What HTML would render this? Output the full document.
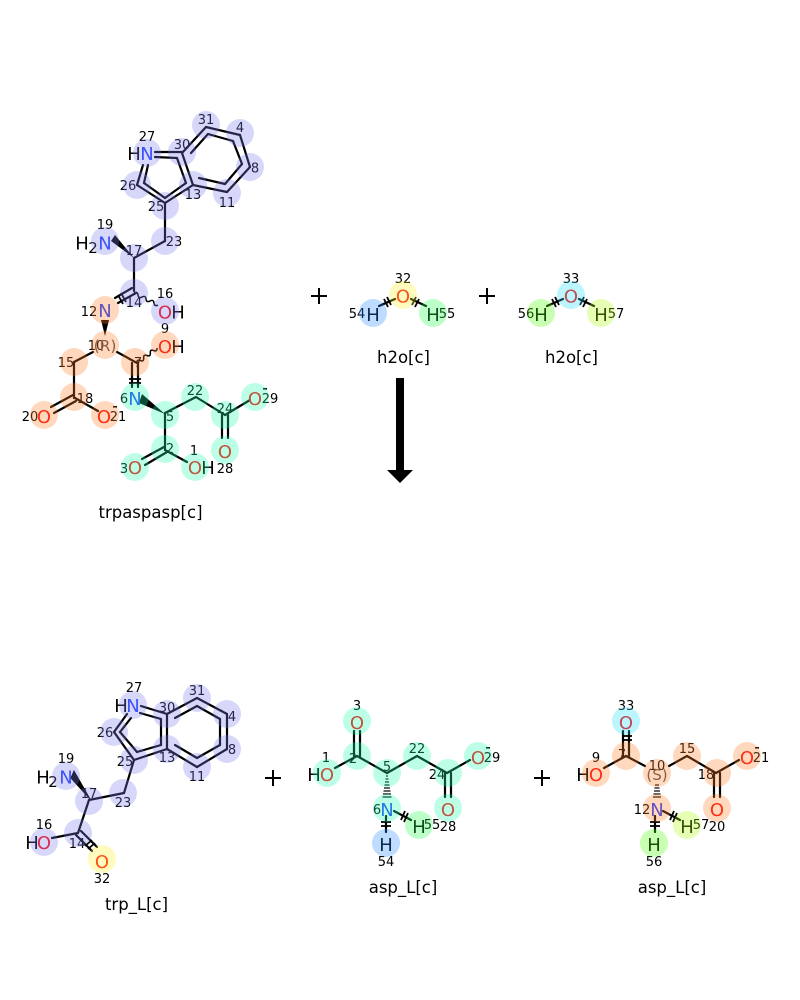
<!DOCTYPE html>
<html><head><meta charset="utf-8"><style>
html,body{margin:0;padding:0;background:#fff}
svg{display:block}
text{font-family:"DejaVu Sans",sans-serif}
.b line{stroke:#000;stroke-width:2.2;fill:none;stroke-linecap:round}
.x line{stroke:#000;stroke-width:1.8}
.w path{stroke:#000;stroke-width:1.5;fill:none}
.a text{font-size:18px;text-anchor:middle}
.n text{font-size:13px;text-anchor:middle;fill:#000}
.N{fill:#2040ff}.O{fill:#ff0d0d}.H{fill:#000}
.c circle{r:14px;fill-opacity:.3}
.l{font-size:16.5px;text-anchor:middle;fill:#000}
.L{fill:#7a7aee}.P{fill:#ff7d26}.M{fill:#26ffac}.Y{fill:#ffee26}.B{fill:#268aff}.G{fill:#26ff48}.E{fill:#48ff00}.C{fill:#26deff}.J{fill:#acff05}
</style></head><body>
<svg width="800" height="1000" viewBox="0 0 800 1000" xmlns="http://www.w3.org/2000/svg">
<rect width="800" height="1000" fill="#fff"/>

<!-- trpaspasp bonds -->
<g class="b">
<line x1="155" y1="152" x2="182" y2="152"/><line x1="155" y1="157" x2="177" y2="158"/>
<line x1="182" y1="153" x2="193" y2="185"/><line x1="177" y1="158" x2="186" y2="183"/>
<line x1="193" y1="185" x2="165" y2="203"/><line x1="165" y1="203" x2="137" y2="185"/><line x1="186" y1="183" x2="165" y2="198"/><line x1="165" y1="198" x2="144" y2="183"/>
<line x1="137" y1="185" x2="143" y2="165"/><line x1="144" y1="183" x2="148" y2="165"/>
<line x1="182" y1="153" x2="206" y2="127"/><line x1="206" y1="127" x2="240" y2="135"/><line x1="240" y1="135" x2="250" y2="167"/><line x1="250" y1="167" x2="227" y2="192"/><line x1="227" y1="192" x2="193" y2="185"/>
<line x1="191" y1="153" x2="208" y2="134"/><line x1="208" y1="134" x2="233" y2="141"/><line x1="233" y1="141" x2="242" y2="164"/><line x1="242" y1="164" x2="225" y2="184"/><line x1="225" y1="184" x2="199" y2="178"/>
<line x1="165" y1="203" x2="165" y2="241"/><line x1="165" y1="241" x2="134" y2="258"/><line x1="134" y1="258" x2="134" y2="291"/>
<line x1="136" y1="293" x2="118" y2="303"/><line x1="132" y1="288" x2="115" y2="298"/>
<line x1="93" y1="352" x2="74" y2="362"/><line x1="117" y1="352" x2="137" y2="363"/>
<line x1="132" y1="363" x2="132" y2="387"/><line x1="138" y1="363" x2="138" y2="387"/>
<line x1="74" y1="362" x2="74" y2="398"/><line x1="76" y1="401" x2="54" y2="413"/><line x1="73" y1="395" x2="51" y2="407"/><line x1="75" y1="398" x2="98" y2="411"/>
<line x1="165" y1="413" x2="196" y2="397"/><line x1="196" y1="397" x2="225" y2="415"/><line x1="225" y1="415" x2="250" y2="400"/>
<line x1="222" y1="415" x2="222" y2="438"/><line x1="228" y1="415" x2="228" y2="438"/>
<line x1="165" y1="413" x2="165" y2="449"/><line x1="164" y1="447" x2="142" y2="459"/><line x1="167" y1="452" x2="145" y2="465"/><line x1="165" y1="450" x2="187" y2="462"/>
</g>
<polygon points="111,241 115,235 134,258" fill="#000"/>
<polygon points="101,320 109,320 105,336" fill="#000"/>
<polygon points="142,394 139,403 165,414" fill="#000"/>
<g class="x">
<line x1="118" y1="295" x2="123" y2="304"/><line x1="121" y1="293" x2="126" y2="302"/>
<line x1="129" y1="379" x2="141" y2="379"/><line x1="129" y1="383" x2="141" y2="383"/>
</g>
<g class="w">
<path d="M134 293q3.5-2 4 2q.5 4 4 2q3.5-2 4 2q.5 4 4 2q3.500-2 4 2q.5 4 4 2"/>
<path d="M137 363q-.33-4 3.330-2.500q3.670 1.550 3.330-2.500q-.33-4 3.330-2.500q3.670 1.550 3.330-2.500q-.33-4 3.330-2.500q3.670 1.550 3.330-2.500"/>
</g>

<!-- trpaspasp text -->
<g class="a">
<text x="147" y="160" class="N">N</text><text x="134" y="160" class="H">H</text>
<text x="105" y="249.500" class="N">N</text><text x="82" y="249.500" class="H">H</text><text x="93" y="253" class="H" style="font-size:15px">2</text>
<text x="105" y="317" class="N">N</text>
<text x="165" y="318.500" class="O">O</text><text x="178" y="318.500" class="H">H</text>
<text x="165" y="353" class="O">O</text><text x="178" y="353" class="H">H</text>
<text x="44" y="423" class="O">O</text><text x="104" y="423" class="O">O</text>
<text x="135" y="405" class="N">N</text>
<text x="255" y="405" class="O">O</text>
<text x="225" y="458" class="O">O</text>
<text x="135" y="474" class="O">O</text><text x="195" y="474" class="O">O</text><text x="208" y="474" class="H">H</text>
</g>
<rect x="263" y="388" width="4" height="1.600" fill="#000"/><rect x="113" y="406" width="4" height="1.600" fill="#000"/>
<g class="n">
<text x="147" y="141">27</text><text x="182" y="149">30</text><text x="206" y="124">31</text><text x="240" y="132">4</text><text x="255" y="172.500">8</text><text x="227" y="207">11</text><text x="193" y="199">13</text><text x="156" y="211">25</text><text x="128" y="190">26</text><text x="174" y="246">23</text><text x="105" y="229">19</text><text x="134" y="255">17</text><text x="134" y="307">14</text><text x="165" y="298">16</text><text x="89" y="316">12</text><text x="165" y="333">9</text><text x="96" y="350">10</text><text x="105" y="351" style="font-size:15.500px;fill:#555">(R)</text><text x="138" y="367">7</text><text x="66" y="367">15</text><text x="85" y="403">18</text><text x="30" y="421">20</text><text x="118" y="421">21</text><text x="124" y="403">6</text><text x="170" y="421">5</text><text x="195" y="395">22</text><text x="225" y="413">24</text><text x="270" y="403">29</text><text x="225" y="473">28</text><text x="170" y="453">2</text><text x="124" y="473">3</text><text x="194" y="455">1</text>
</g>
<g class="c">
<circle class="L" cx="147" cy="153"/><circle class="L" cx="182" cy="152"/><circle class="L" cx="206" cy="125"/><circle class="L" cx="240" cy="133"/><circle class="L" cx="250" cy="167"/><circle class="L" cx="227" cy="193"/><circle class="L" cx="193" cy="185"/><circle class="L" cx="165" cy="206"/><circle class="L" cx="137" cy="185"/><circle class="L" cx="165" cy="241"/><circle class="L" cx="105" cy="241"/><circle class="L" cx="134" cy="258"/><circle class="L" cx="134" cy="293"/><circle class="L" cx="165" cy="311"/>
<circle class="P" cx="105" cy="310"/><circle class="P" cx="105" cy="345"/><circle class="P" cx="165" cy="345"/><circle class="P" cx="135" cy="362"/><circle class="P" cx="74" cy="362"/><circle class="P" cx="74" cy="397"/><circle class="P" cx="44" cy="415"/><circle class="P" cx="105" cy="415"/>
<circle class="M" cx="135" cy="397"/><circle class="M" cx="165" cy="415"/><circle class="M" cx="195" cy="397"/><circle class="M" cx="225" cy="415"/><circle class="M" cx="255" cy="397"/><circle class="M" cx="225" cy="450"/><circle class="M" cx="165" cy="449"/><circle class="M" cx="135" cy="467"/><circle class="M" cx="195" cy="467"/>
</g>

<!-- water -->
<g class="b">
<line x1="379" y1="306" x2="395" y2="299"/><line x1="411" y1="299" x2="426" y2="306"/>
<line x1="547" y1="306" x2="563" y2="299"/><line x1="579" y1="299" x2="594" y2="306"/>
</g>
<g class="x">
<line x1="387" y1="297" x2="391" y2="305"/><line x1="384" y1="299" x2="388" y2="307"/><line x1="412" y1="305" x2="416" y2="297"/><line x1="415" y1="307" x2="419" y2="299"/>
<line x1="555" y1="297" x2="559" y2="305"/><line x1="552" y1="299" x2="556" y2="307"/><line x1="580" y1="305" x2="584" y2="297"/><line x1="583" y1="307" x2="587" y2="299"/>
</g>
<g class="a">
<text x="403" y="302.500" class="O">O</text><text x="373" y="321" class="H">H</text><text x="433" y="321" class="H">H</text>
<text x="571" y="302.500" class="O">O</text><text x="541" y="321" class="H">H</text><text x="601" y="321" class="H">H</text>
</g>
<g class="n">
<text x="403" y="283">32</text><text x="357" y="318">54</text><text x="447" y="318">55</text><text x="571" y="283">33</text><text x="526" y="318">56</text><text x="616" y="318">57</text>
</g>
<g class="c">
<circle class="Y" cx="403" cy="295"/><circle class="B" cx="373" cy="313"/><circle class="G" cx="433" cy="313"/>
<circle class="C" cx="571" cy="295"/><circle class="E" cx="541" cy="313"/><circle class="J" cx="601" cy="313"/>
</g>

<!-- plus -->
<g fill="#000">
<rect x="311" y="295" width="16" height="2"/><rect x="318" y="288" width="2" height="16"/>
<rect x="479" y="295" width="16" height="2"/><rect x="486" y="288" width="2" height="16"/>
<rect x="265" y="777" width="16" height="2"/><rect x="272" y="770" width="2" height="16"/>
<rect x="534" y="777" width="16" height="2"/><rect x="541" y="770" width="2" height="16"/>
</g>

<!-- labels -->
<text class="l" x="150.500" y="518">trpaspasp[c]</text>
<text class="l" x="403.500" y="363">h2o[c]</text>
<text class="l" x="571.500" y="363">h2o[c]</text>
<text class="l" x="136.500" y="910">trp_L[c]</text>
<text class="l" x="403" y="893">asp_L[c]</text>
<text class="l" x="672" y="893">asp_L[c]</text>

<!-- arrow -->
<polygon points="396,378 404,378 404,470 413,470 400,483 387,470 396,470" fill="#000"/>

<!-- trp_L -->
<g class="b">
<line x1="141" y1="706" x2="167" y2="714"/><line x1="167" y1="714" x2="167" y2="749"/><line x1="167" y1="749" x2="134" y2="760"/><line x1="134" y1="760" x2="114" y2="732"/><line x1="114" y1="732" x2="127" y2="714"/>
<line x1="140" y1="713" x2="161" y2="719"/><line x1="161" y1="719" x2="161" y2="745"/><line x1="161" y1="745" x2="137" y2="752"/><line x1="137" y1="752" x2="120" y2="732"/><line x1="120" y1="732" x2="131" y2="718"/>
<line x1="167" y1="714" x2="197" y2="698"/><line x1="197" y1="698" x2="227" y2="714"/><line x1="227" y1="714" x2="227" y2="749"/><line x1="227" y1="749" x2="197" y2="767"/><line x1="197" y1="767" x2="167" y2="749"/>
<line x1="175" y1="718" x2="197" y2="706"/><line x1="197" y1="706" x2="220" y2="719"/><line x1="220" y1="719" x2="220" y2="745"/><line x1="220" y1="745" x2="197" y2="758"/><line x1="197" y1="758" x2="175" y2="745"/>
<line x1="134" y1="760" x2="124" y2="793"/><line x1="124" y1="793" x2="89" y2="800"/><line x1="89" y1="800" x2="78" y2="833"/><line x1="78" y1="833" x2="52" y2="838"/>
<line x1="76" y1="835" x2="92" y2="851"/><line x1="81" y1="831" x2="97" y2="847"/>
</g>
<polygon points="71,778 74,771 90,799" fill="#000" stroke="#000" stroke-width="1"/>
<g class="x"><line x1="85" y1="846" x2="92" y2="840"/><line x1="88" y1="849" x2="95" y2="843"/></g>
<g class="a">
<text x="133" y="712" class="N">N</text><text x="121" y="712" class="H">H</text>
<text x="66" y="783.500" class="N">N</text><text x="43" y="783.500" class="H">H</text><text x="53" y="787" class="H" style="font-size:15px">2</text>
<text x="44" y="849" class="O">O</text><text x="32" y="849" class="H">H</text>
<text x="102" y="868" class="O">O</text>
</g>
<g class="n">
<text x="134" y="692">27</text><text x="167" y="712">30</text><text x="197" y="695">31</text><text x="232" y="721">4</text><text x="232" y="754">8</text><text x="197" y="781">11</text><text x="167" y="762">13</text><text x="125" y="766">25</text><text x="105" y="737">26</text><text x="123" y="807">23</text><text x="89" y="798">17</text><text x="66" y="763">19</text><text x="77" y="848">14</text><text x="44" y="829">16</text><text x="102" y="883">32</text>
</g>
<g class="c">
<circle class="L" cx="133" cy="705"/><circle class="L" cx="167" cy="714"/><circle class="L" cx="197" cy="698"/><circle class="L" cx="227" cy="714"/><circle class="L" cx="227" cy="749"/><circle class="L" cx="197" cy="767"/><circle class="L" cx="167" cy="749"/><circle class="L" cx="134" cy="760"/><circle class="L" cx="114" cy="732"/><circle class="L" cx="123" cy="793"/><circle class="L" cx="89" cy="801"/><circle class="L" cx="66" cy="776"/><circle class="L" cx="78" cy="833"/><circle class="L" cx="44" cy="842"/><circle class="Y" cx="102" cy="859"/>
</g>

<!-- asp 1 -->
<g class="b">
<line x1="354" y1="731" x2="354" y2="756"/><line x1="360" y1="731" x2="360" y2="756"/>
<line x1="357" y1="756" x2="387" y2="773"/><line x1="357" y1="756" x2="335" y2="768"/>
<line x1="387" y1="773" x2="417" y2="756"/><line x1="417" y1="756" x2="447" y2="773"/><line x1="447" y1="773" x2="470" y2="760"/>
<line x1="445" y1="773" x2="445" y2="797"/><line x1="451" y1="773" x2="451" y2="797"/>
<line x1="394" y1="811" x2="411" y2="820"/><line x1="386" y1="816" x2="386" y2="832"/>
</g>
<g stroke="#000" stroke-width="1.2">
<line x1="386" y1="776" x2="388" y2="776"/><line x1="385.500" y1="779" x2="388.500" y2="779"/><line x1="385" y1="782" x2="389" y2="782"/><line x1="384.500" y1="785" x2="389.500" y2="785"/><line x1="384" y1="788" x2="390" y2="788"/><line x1="383.500" y1="791" x2="390.500" y2="791"/><line x1="383" y1="794" x2="391" y2="794"/><line x1="382.500" y1="797" x2="391.500" y2="797"/>
</g>
<g class="x">
<line x1="401" y1="820" x2="405" y2="811"/><line x1="404" y1="822" x2="408" y2="813"/>
<line x1="381" y1="822" x2="391" y2="822"/><line x1="381" y1="826" x2="391" y2="826"/>
</g>
<g class="a">
<text x="357" y="729" class="O">O</text><text x="327" y="781" class="O">O</text><text x="314" y="781" class="H">H</text><text x="387" y="816" class="N">N</text><text x="478" y="764" class="O">O</text><text x="448" y="816" class="O">O</text><text x="419" y="833" class="H">H</text><text x="386" y="851" class="H">H</text>
</g>
<rect x="486" y="747" width="4" height="1.600" fill="#000"/>
<g class="n">
<text x="357" y="710">3</text><text x="353" y="763">2</text><text x="326" y="762">1</text><text x="387" y="771">5</text><text x="417" y="753">22</text><text x="437" y="779">24</text><text x="492" y="762">29</text><text x="377" y="814">6</text><text x="432" y="829">55</text><text x="448" y="831">28</text><text x="386" y="866">54</text>
</g>
<g class="c">
<circle class="M" cx="357" cy="721"/><circle class="M" cx="357" cy="756"/><circle class="M" cx="327" cy="773"/><circle class="M" cx="387" cy="773"/><circle class="M" cx="417" cy="756"/><circle class="M" cx="448" cy="773"/><circle class="M" cx="478" cy="756"/><circle class="M" cx="448" cy="808"/><circle class="M" cx="387" cy="808"/><circle class="G" cx="419" cy="825"/><circle class="B" cx="386" cy="843"/>
</g>

<!-- asp 2 -->
<g class="b">
<line x1="623" y1="731" x2="623" y2="756"/><line x1="629" y1="731" x2="629" y2="756"/>
<line x1="626" y1="756" x2="645" y2="766"/><line x1="626" y1="756" x2="604" y2="768"/>
<line x1="669" y1="766" x2="687" y2="756"/><line x1="687" y1="756" x2="716" y2="773"/><line x1="716" y1="773" x2="739" y2="760"/>
<line x1="714" y1="773" x2="714" y2="797"/><line x1="720" y1="773" x2="720" y2="797"/>
<line x1="663" y1="811" x2="680" y2="820"/><line x1="655" y1="816" x2="655" y2="832"/>
</g>
<g stroke="#000" stroke-width="1.2">
<line x1="655" y1="785" x2="659" y2="785"/><line x1="654.500" y1="788" x2="659.500" y2="788"/><line x1="654" y1="791" x2="660" y2="791"/><line x1="653.500" y1="794" x2="660.500" y2="794"/><line x1="653" y1="797" x2="661" y2="797"/>
</g>
<g class="x">
<line x1="622" y1="736" x2="632" y2="736"/><line x1="622" y1="740" x2="632" y2="740"/>
<line x1="670" y1="820" x2="674" y2="811"/><line x1="673" y1="822" x2="677" y2="813"/>
<line x1="650" y1="822" x2="660" y2="822"/><line x1="650" y1="826" x2="660" y2="826"/>
</g>
<g class="a">
<text x="626" y="729" class="O">O</text><text x="596" y="781" class="O">O</text><text x="583" y="781" class="H">H</text><text x="657" y="816" class="N">N</text><text x="747" y="764" class="O">O</text><text x="717" y="816" class="O">O</text><text x="687" y="833" class="H">H</text><text x="654" y="851" class="H">H</text>
</g>
<rect x="755" y="747" width="4" height="1.600" fill="#000"/>
<g class="n">
<text x="626" y="710">33</text><text x="622" y="759">7</text><text x="596" y="762">9</text><text x="657" y="770">10</text><text x="657" y="780" style="font-size:15px;fill:#555">(S)</text><text x="687" y="753">15</text><text x="706" y="779">18</text><text x="761" y="762">21</text><text x="642" y="814">12</text><text x="701" y="829">57</text><text x="717" y="831">20</text><text x="654" y="866">56</text>
</g>
<g class="c">
<circle class="C" cx="626" cy="721"/><circle class="P" cx="626" cy="756"/><circle class="P" cx="596" cy="773"/><circle class="P" cx="657" cy="773"/><circle class="P" cx="687" cy="756"/><circle class="P" cx="717" cy="773"/><circle class="P" cx="747" cy="756"/><circle class="P" cx="717" cy="808"/><circle class="P" cx="657" cy="808"/><circle class="J" cx="687" cy="825"/><circle class="E" cx="654" cy="843"/>
</g>
</svg>
</body></html>
